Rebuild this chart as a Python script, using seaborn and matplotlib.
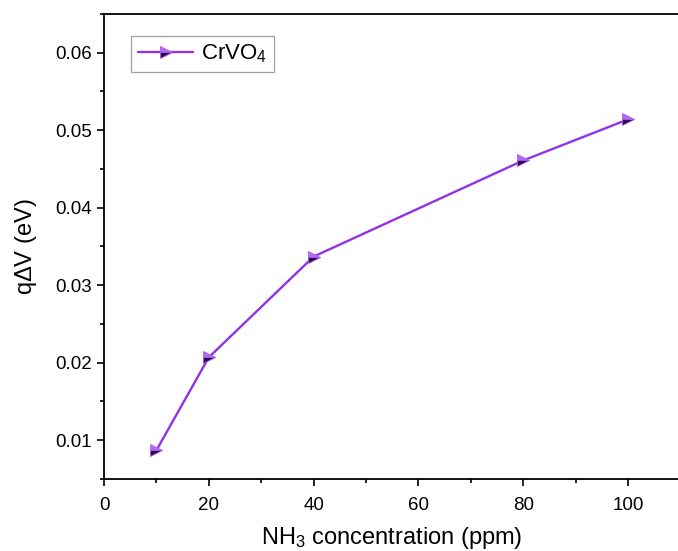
import matplotlib
matplotlib.use("Agg")
import matplotlib.pyplot as plt
from matplotlib.ticker import MultipleLocator, FormatStrFormatter
import seaborn as sns
import pandas as pd

# NH3 response of the CrVO4 sensor
concentration_ppm = [10, 20, 40, 80, 100]
q_delta_v_ev = [0.0087, 0.0207, 0.0337, 0.0461, 0.0514]
series_name = "CrVO$_4$"

df = pd.DataFrame({"conc": concentration_ppm, "qdv": q_delta_v_ev})

sns.set_theme(style="ticks")
plt.rcParams["font.family"] = ["Liberation Sans", "DejaVu Sans"]
plt.rcParams["mathtext.fontset"] = "custom"
plt.rcParams["mathtext.rm"] = "Liberation Sans"
plt.rcParams["mathtext.it"] = "Liberation Sans:italic"
plt.rcParams["text.color"] = "black"
plt.rcParams["axes.labelcolor"] = "black"

fig = plt.figure(figsize=(6.78, 5.51), dpi=100)
ax = fig.add_axes([0.1534, 0.1307, 0.8502, 0.8439])

line_color = "#9232e8"
sns.lineplot(
    data=df, x="conc", y="qdv", ax=ax, color=line_color, linewidth=1.7,
    marker=">", markersize=9, fillstyle="top",
    markerfacecolor="#b36cf0", markerfacecoloralt="#2a0848",
    markeredgecolor="#a95ded", markeredgewidth=0.6,
    label=series_name,
)

ax.set_xlim(0, 110)
ax.set_ylim(0.005, 0.065)
ax.xaxis.set_major_locator(MultipleLocator(20))
ax.xaxis.set_minor_locator(MultipleLocator(10))
ax.yaxis.set_major_locator(MultipleLocator(0.01))
ax.yaxis.set_minor_locator(MultipleLocator(0.005))
ax.yaxis.set_major_formatter(FormatStrFormatter("%.2f"))

ax.tick_params(axis="both", which="major", direction="out", length=5, width=1.2,
               labelsize=13.5, colors="black", labelcolor="black")
ax.tick_params(axis="x", which="major", pad=8)
ax.tick_params(axis="y", which="major", pad=3.5)
ax.tick_params(axis="both", which="minor", direction="out", length=3, width=1.2,
               colors="black")
ax.tick_params(top=False, right=False, which="both")

for side in ["left", "bottom", "top"]:
    ax.spines[side].set_linewidth(1.3)
    ax.spines[side].set_color("black")
ax.spines["right"].set_visible(False)

ax.set_xlabel("NH$_3$ concentration (ppm)", fontsize=17, labelpad=8)
ax.set_ylabel("q$\\Delta$V (eV)", fontsize=17, labelpad=12)

leg = ax.legend(loc="upper left", bbox_to_anchor=(0.047, 0.953), fontsize=16,
                frameon=True, fancybox=False, edgecolor="#888888",
                handlelength=2.5, handletextpad=0.35, borderpad=0.3,
                borderaxespad=0.0)
leg.get_frame().set_linewidth(0.9)

fig.savefig("out.png", dpi=100)
